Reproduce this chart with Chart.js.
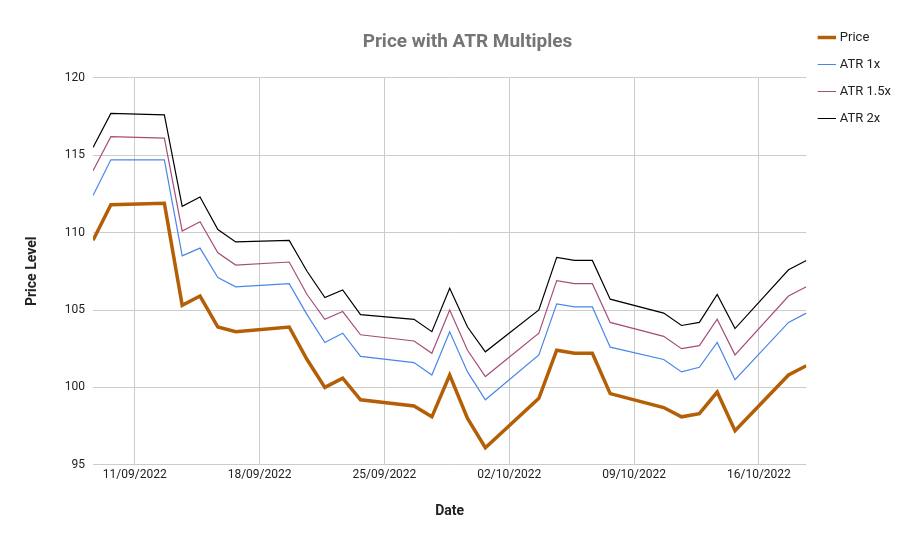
<!DOCTYPE html>
<html><head><meta charset="utf-8">
<script src="https://cdn.jsdelivr.net/npm/chart.js@4"></script>
<style>body{margin:0;background:#fff}#w{width:921px;height:550px}</style>
</head><body><div id="w"><canvas id="c"></canvas></div>
<script>
// days counted from 31 Aug 2022 (Sept day n = n, Oct day n = 30+n)
const dates = [8,9,12,13,14,15,16,19,20,21,22,23,26,27,28,29,30,33,34,35,36,37,40,41,42,43,44,47,48];
const price = [109.5,111.8,111.9,105.3,105.9,103.9,103.6,103.9,101.8,100.0,100.6,99.2,98.8,98.1,100.8,98.0,96.1,99.3,102.4,102.2,102.2,99.6,98.7,98.1,98.3,99.7,97.2,100.8,101.4];
const atr1 = [112.4,114.7,114.7,108.5,109.0,107.1,106.5,106.7,104.7,102.9,103.5,102.0,101.6,100.8,103.6,101.0,99.2,102.1,105.4,105.2,105.2,102.6,101.8,101.0,101.3,102.9,100.5,104.2,104.8];
const atr15 = [114.0,116.2,116.1,110.1,110.7,108.7,107.9,108.1,106.0,104.4,104.9,103.4,103.0,102.2,105.0,102.4,100.7,103.5,106.9,106.7,106.7,104.2,103.3,102.5,102.7,104.4,102.1,105.9,106.5];
const atr2 = [115.5,117.7,117.6,111.7,112.3,110.2,109.4,109.5,107.5,105.8,106.3,104.7,104.4,103.6,106.4,103.9,102.3,105.0,108.4,108.2,108.2,105.7,104.8,104.0,104.2,106.0,103.8,107.6,108.2];
const tickDays = [11,18,25,32,39,46];
const off = 0.66;
const pts = a => a.map((v,i)=>({x:dates[i]+off,y:v}));
const fmt = d => { const m = d>30?10:9; const day = d>30?d-30:d; return String(day).padStart(2,'0')+'/'+String(m).padStart(2,'0')+'/2022'; };
const ds = (l,a,c,w)=>({label:l,data:pts(a),borderColor:c,backgroundColor:c,borderWidth:w,pointRadius:0,tension:0});
const legendWidth = {id:'lw',beforeInit(ch){const f=ch.legend.fit;ch.legend.fit=function(){f.call(this);this.width+=14;};}};
new Chart(document.getElementById('c'),{type:'line',
data:{datasets:[ds('Price',price,'#b45f06',3.5),ds('ATR 1x',atr1,'#4a86e8',1.2),ds('ATR 1.5x',atr15,'#a64d79',1.2),ds('ATR 2x',atr2,'#000000',1.2)]},
plugins:[legendWidth],
options:{responsive:true,maintainAspectRatio:false,animation:false,
layout:{padding:{left:20,right:6,top:17,bottom:26}},
plugins:{title:{display:true,text:'Price with ATR Multiples',color:'#757575',font:{family:'Roboto',size:19,weight:'bold'},padding:{top:14,bottom:24}},
legend:{position:'right',align:'start',labels:{usePointStyle:true,pointStyle:'line',boxWidth:20,padding:14,color:'#222',font:{family:'Roboto',size:13}}},tooltip:{enabled:false}},
scales:{x:{type:'linear',min:dates[0]+off,max:dates[dates.length-1]+off,
afterBuildTicks:s=>{s.ticks=tickDays.map(v=>({value:v}));},
ticks:{callback:v=>fmt(v),color:'#222',font:{family:'Roboto',size:12},maxRotation:0},
grid:{color:'#cccccc',drawTicks:false},border:{display:false},
title:{display:true,text:'Date',color:'#222',font:{family:'Roboto',size:14,weight:'bold'},padding:{top:18}}},
y:{min:95,max:120,ticks:{stepSize:5,color:'#222',font:{family:'Roboto',size:12},padding:8},
grid:{color:'#cccccc',drawTicks:false},border:{display:false},
title:{display:true,text:'Price Level',color:'#222',font:{family:'Roboto',size:14,weight:'bold'},padding:{bottom:16}}}}}});
</script></body></html>
